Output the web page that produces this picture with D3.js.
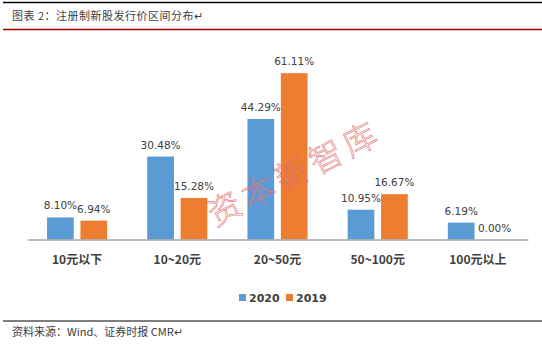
<!DOCTYPE html>
<html><head><meta charset="utf-8">
<script src="https://cdn.jsdelivr.net/npm/d3@7"></script>
<style>body{margin:0;background:#fff}svg{display:block}</style>
</head><body>
<svg id="c" width="542" height="345"></svg>
<script>
const categories = ["10元以下", "10~20元", "20~50元", "50~100元", "100元以上"];
const seriesNames = ["2020", "2019"];
const values2020 = [8.10, 30.48, 44.29, 10.95, 6.19];
const values2019 = [6.94, 15.28, 61.11, 16.67, 0.00];
const colors = ["#5b9bd5", "#ed7d31"];
const titleText = "图表 2：注册制新股发行价区间分布↵";
const sourceText = "资料来源：Wind、证券时报 CMR↵";
const watermark = "资本新智库";

const svg = d3.select("#c");
const W = 542;

// header lines
svg.append("line").attr("x1", 3).attr("x2", W).attr("y1", 2.5).attr("y2", 2.5)
  .attr("stroke", "#000").attr("stroke-width", 1.5);
svg.append("text").attr("x", 12).attr("y", 19.5)
  .attr("font-family", "Noto Sans CJK SC").attr("font-size", 11)
  .attr("letter-spacing", 0.5).attr("fill", "#404040").text(titleText);
svg.append("line").attr("x1", 3).attr("x2", W).attr("y1", 29.5).attr("y2", 29.5)
  .attr("stroke", "#a50000").attr("stroke-width", 1.5);

const x = d3.scaleBand().domain(categories).range([27, 528]).padding(0);
const xs = d3.scaleBand().domain(seriesNames)
  .range([x.bandwidth() * 0.2, x.bandwidth() * 0.8]).paddingInner(0.2);
const y = d3.scaleLinear().domain([0, 70]).range([239.5, 49]);

const data = categories.map((c, i) => ({ cat: c, vals: [values2020[i], values2019[i]] }));

const g = svg.append("g");
data.forEach(d => {
  d.vals.forEach((v, j) => {
    const bx = x(d.cat) + xs(seriesNames[j]);
    g.append("rect").attr("x", bx).attr("width", xs.bandwidth())
      .attr("y", y(v)).attr("height", y(0) - y(v)).attr("fill", colors[j]);
    g.append("text").attr("x", bx + xs.bandwidth() / 2).attr("y", y(v) - 8)
      .attr("text-anchor", "middle").attr("font-family", "DejaVu Sans")
      .attr("font-size", 10.5).attr("fill", "#404040").text(v.toFixed(2) + "%");
  });
});

// axis
const ax = svg.append("g").attr("transform", `translate(0,${y(0)})`)
  .call(d3.axisBottom(x).tickSize(0).tickPadding(16));
ax.select(".domain").attr("stroke", "#a6a6a6").attr("stroke-width", 1.5);
ax.selectAll("text").attr("font-family", "Noto Sans CJK SC").attr("font-size", 12)
  .attr("font-weight", "bold").attr("fill", "#404040");

// watermark
svg.append("text").attr("transform", "translate(293,177) rotate(-27)")
  .attr("x", 3)
  .attr("text-anchor", "middle").attr("dominant-baseline", "middle")
  .attr("font-family", "Noto Sans CJK SC").attr("font-weight", 300)
  .attr("font-size", 33).attr("letter-spacing", 5)
  .attr("fill", "rgba(255,255,255,0.15)").attr("stroke", "#e06060")
  .attr("stroke-opacity", 0.8)
  .attr("stroke-width", 0.7).text(watermark);

// legend
const legX = [239, 286];
seriesNames.forEach((s, j) => {
  svg.append("rect").attr("x", legX[j]).attr("y", 294).attr("width", 7).attr("height", 7)
    .attr("fill", colors[j]);
  svg.append("text").attr("x", legX[j] + 10).attr("y", 301.5)
    .attr("font-family", "DejaVu Sans").attr("font-size", 11).attr("font-weight", "bold")
    .attr("fill", "#404040").text(s);
});

// footer
svg.append("line").attr("x1", 3).attr("x2", W).attr("y1", 321).attr("y2", 321)
  .attr("stroke", "#000").attr("stroke-width", 1.2);
svg.append("text").attr("x", 12).attr("y", 335.5)
  .attr("font-family", "Noto Sans CJK SC").attr("font-size", 11)
  .attr("fill", "#404040").text(sourceText);
</script>
</body></html>
